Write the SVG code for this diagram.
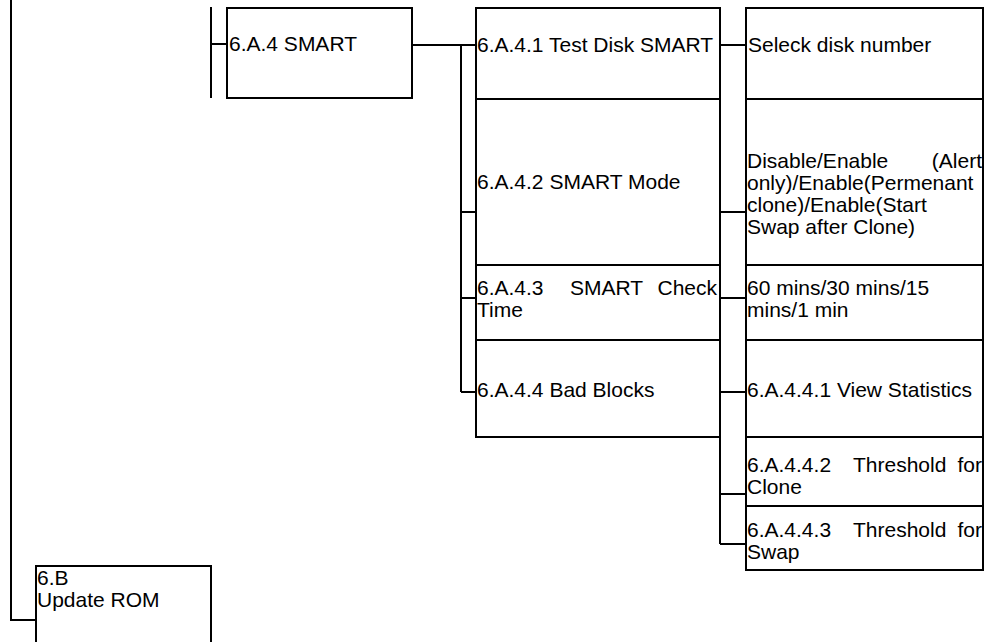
<svg xmlns="http://www.w3.org/2000/svg" width="993" height="642" viewBox="0 0 993 642">
<style>
.box{fill:#fff;stroke:#000;stroke-width:2}
.ln{fill:none;stroke:#000;stroke-width:2}
text{font-family:"Liberation Sans",Arial,sans-serif;font-size:21px;fill:#000}
</style>
<rect width="993" height="642" fill="#fff"/>
<g id="connectors">
<path class="ln" d="M11 0V620H36"/>
<path class="ln" d="M211 7V98M211 44H227"/>
<path class="ln" d="M412 45H476M461 45V392M461 212H476M461 298H476M461 392H476"/>
<path class="ln" d="M720 45H746M720 212H746M720 298H746M720 392H746M720 437V544M720 494H746M720 544H746"/>
</g>
<g id="n6B"><rect class="box" x="36" y="566" width="175" height="90"/><text x="37" y="585">6.B</text><text x="37" y="607">Update ROM</text></g>
<g id="n6A4"><rect class="box" x="227" y="8" width="185" height="90"/><text x="229" y="51">6.A.4 SMART</text></g>
<g id="n6A41"><rect class="box" x="476" y="8" width="244" height="91"/><text x="477" y="52">6.A.4.1 Test Disk SMART</text></g>
<g id="n6A42"><rect class="box" x="476" y="99" width="244" height="166"/><text x="477" y="189">6.A.4.2 SMART Mode</text></g>
<g id="n6A43"><rect class="box" x="476" y="265" width="244" height="75"/><text x="477" y="295">6.A.4.3</text><text x="570" y="295">SMART</text><text x="717" y="295" text-anchor="end">Check</text><text x="477" y="317">Time</text></g>
<g id="n6A44"><rect class="box" x="476" y="340" width="244" height="97"/><text x="477" y="397">6.A.4.4 Bad Blocks</text></g>
<g id="nSel"><rect class="box" x="746" y="8" width="237" height="91"/><text x="748" y="52">Seleck disk number</text></g>
<g id="nMode"><rect class="box" x="746" y="99" width="237" height="166"/><text x="747" y="168">Disable/Enable</text><text x="982" y="168" text-anchor="end">(Alert</text><text x="747" y="190">only)/Enable(Permenant</text><text x="747" y="212">clone)/Enable(Start</text><text x="747" y="234">Swap after Clone)</text></g>
<g id="nTime"><rect class="box" x="746" y="265" width="237" height="75"/><text x="747" y="295">60 mins/30 mins/15</text><text x="747" y="317">mins/1 min</text></g>
<g id="n6A441"><rect class="box" x="746" y="340" width="237" height="97"/><text x="747" y="397">6.A.4.4.1 View Statistics</text></g>
<g id="n6A442"><rect class="box" x="746" y="437" width="237" height="69"/><text x="747" y="472">6.A.4.4.2</text><text x="853" y="472">Threshold</text><text x="982" y="472" text-anchor="end">for</text><text x="747" y="494">Clone</text></g>
<g id="n6A443"><rect class="box" x="746" y="506" width="237" height="64"/><text x="747" y="537">6.A.4.4.3</text><text x="853" y="537">Threshold</text><text x="982" y="537" text-anchor="end">for</text><text x="747" y="559">Swap</text></g>
</svg>
